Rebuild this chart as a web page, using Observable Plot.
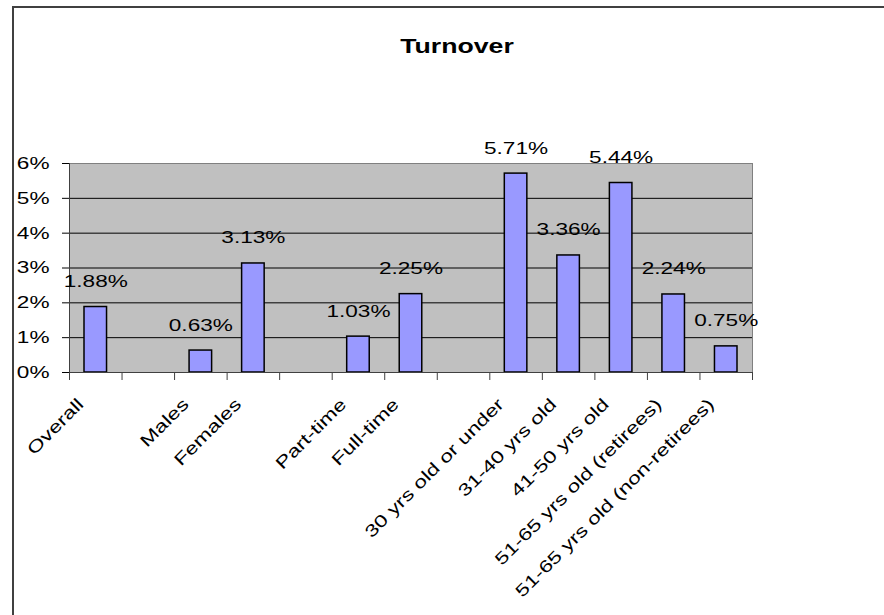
<!DOCTYPE html>
<html>
<head>
<meta charset="utf-8">
<script src="https://cdn.jsdelivr.net/npm/d3@7"></script>
<script src="https://cdn.jsdelivr.net/npm/@observablehq/plot@0.6"></script>
<style>
  html, body { margin: 0; padding: 0; background: #fff; overflow: hidden; }
  #wrap { position: relative; width: 884px; height: 615px; }
  #chart { position: absolute; left: 0; top: 0; }
  #border { position: absolute; left: 12px; top: 6px; width: 1000px; height: 1000px;
            border-left: 2px solid #404040; border-top: 2px solid #404040; pointer-events: none; }
  #title { position: absolute; left: 457px; top: 34px; line-height: 1; white-space: nowrap;
           font: bold 21px "Liberation Sans", Arial, sans-serif; color: #000;
           transform: translateX(-50%) scaleX(1.27); }
</style>
</head>
<body>
<div id="wrap">
  <div id="chart"></div>
  <div id="border"></div>
  <div id="title">Turnover</div>
</div>
<script>
// Category slots (empty strings are spacer slots between groups)
const categories = [
  "Overall", "",
  "Males", "Females", "",
  "Part-time", "Full-time", "",
  "30 yrs old or under", "31-40 yrs old", "41-50 yrs old",
  "51-65 yrs old (retirees)", "51-65 yrs old (non-retirees)"
];
// Turnover rate, percent (null for spacer slots)
const turnover = [1.88, null, 0.63, 3.13, null, 1.03, 2.25, null, 5.71, 3.36, 5.44, 2.24, 0.75];
const yTicks = [0, 1, 2, 3, 4, 5, 6];
const gridLevels = [1, 2, 3, 4, 5];

const W = 884, H = 615;
const mL = 69, mR = 132, mT = 163, mB = 243;
const slots = d3.range(categories.length);
const bw = (W - mL - mR) / categories.length;
const bars = slots.filter(i => turnover[i] != null).map(i => ({slot: i, value: turnover[i]}));

const plot = Plot.plot({
  width: W, height: H,
  marginLeft: mL, marginRight: mR, marginTop: mT, marginBottom: mB,
  style: {fontFamily: "'Liberation Sans', Arial, sans-serif", fontSize: "17px", color: "black",
          background: "transparent", overflow: "visible"},
  x: {type: "band", domain: slots, padding: 0, round: false, axis: null},
  y: {domain: [0, 6], axis: null},
  marks: [
    Plot.frame({fill: "#c0c0c0", stroke: "#808080"}),
    Plot.ruleY(gridLevels, {stroke: "#000"}),
    Plot.barY(bars, {x: "slot", y: "value", fill: "#9999ff", stroke: "#000", strokeWidth: 1.5,
                     insetLeft: 15, insetRight: 15}),
    Plot.ruleY([0], {stroke: "#404040"}),
    // value axis line along the left edge of the first slot
    Plot.ruleX([0], {x: d => d, y1: 0, y2: 6, dx: -bw / 2, stroke: "#404040"}),
    Plot.axisY({ticks: yTicks, tickSize: 7, tickPadding: 13, tickFormat: d => d + "%",
                label: null, stroke: "#000", fontSize: 17}),
    // category tick marks on slot boundaries
    Plot.ruleX(slots, {x: d => d, y1: 0, y2: 0, insetBottom: -8, dx: -bw / 2, stroke: "#404040"}),
    Plot.ruleX([slots.length - 1], {x: d => d, y1: 0, y2: 0, insetBottom: -8, dx: bw / 2, stroke: "#404040"}),
    // category labels
    Plot.text(slots, {x: d => d, y: () => 0, text: i => categories[i], rotate: -45,
                      textAnchor: "end", lineAnchor: "middle", dx: -15, dy: 29, fontSize: 17}),
    // value labels
    Plot.text(bars, {x: "slot", y: "value", text: d => d.value.toFixed(2) + "%",
                     lineAnchor: "bottom", dy: -20, fontSize: 17})
  ]
});

document.getElementById("chart").appendChild(plot);

// widen glyphs along each label's own direction, keeping its anchor fixed
plot.querySelectorAll("text").forEach(t => {
  const tr = t.getAttribute("transform") || "";
  t.setAttribute("transform", `${tr} scale(1.33,1)`);
});
</script>
</body>
</html>
